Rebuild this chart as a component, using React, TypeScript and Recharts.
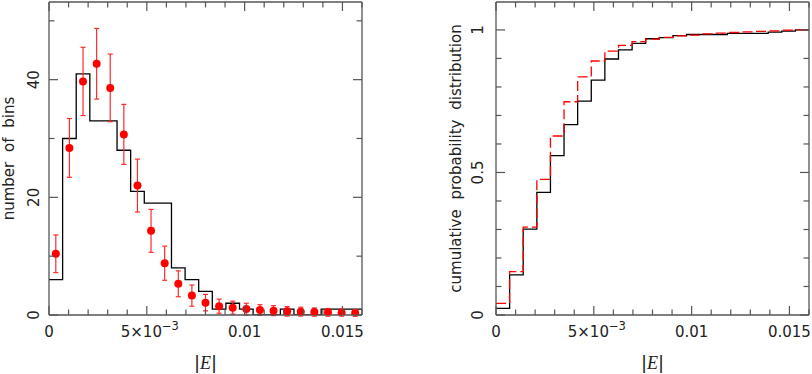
import React from 'react';
import { ComposedChart, Line, Scatter, XAxis, YAxis, ErrorBar } from 'recharts';

// bin edges in |E| (23 bins between 0 and 0.016)
const binEdges = [
  0, 0.000696, 0.001391, 0.002087, 0.002783, 0.003478, 0.004174, 0.00487, 0.005565, 0.006261,
  0.006957, 0.007652, 0.008348, 0.009043, 0.009739, 0.010435, 0.01113, 0.011826, 0.012522,
  0.013217, 0.013913, 0.014609, 0.015304, 0.016,
];
const binCentres = [
  0.000348, 0.001043, 0.001739, 0.002435, 0.00313, 0.003826, 0.004522, 0.005217, 0.005913,
  0.006609, 0.007304, 0.008, 0.008696, 0.009391, 0.010087, 0.010783, 0.011478, 0.012174,
  0.01287, 0.013565, 0.014261, 0.014957, 0.015652,
];

const histCounts = [6, 30, 41, 33, 33, 28, 21, 19, 19, 8, 6, 4, 1, 2, 1, 0, 0, 1, 0, 0, 1, 1, 1];
const modelCounts = [
  10.4, 28.4, 39.7, 42.7, 38.6, 30.7, 22.0, 14.3, 8.8, 5.3, 3.3, 2.1, 1.5, 1.25, 1.0, 0.85, 0.74,
  0.62, 0.57, 0.5, 0.45, 0.4, 0.34,
];
const modelErrors = [
  3.2, 5.0, 5.8, 6.0, 5.75, 5.1, 4.5, 3.65, 2.9, 2.2, 1.8, 1.4, 1.2, 1.1, 1.0, 0.9, 0.85, 0.8, 0.75,
  0.7, 0.65, 0.6, 0.58,
];

const cdfData = [
  0.023, 0.141, 0.301, 0.43, 0.559, 0.668, 0.75, 0.824, 0.898, 0.93, 0.953, 0.969, 0.973, 0.98,
  0.984, 0.984, 0.984, 0.988, 0.988, 0.988, 0.992, 0.996, 1.0,
];
const cdfModel = [
  0.041, 0.152, 0.308, 0.476, 0.628, 0.748, 0.835, 0.891, 0.926, 0.946, 0.959, 0.968, 0.974, 0.979,
  0.982, 0.986, 0.989, 0.991, 0.993, 0.995, 0.997, 0.999, 1.0,
];

const xTicks = [
  0, 0.001, 0.002, 0.003, 0.004, 0.005, 0.006, 0.007, 0.008, 0.009, 0.01, 0.011, 0.012, 0.013,
  0.014, 0.015, 0.016,
];
const xLabels: Record<string, string> = { '0': '0', '0.005': 'exp', '0.01': '0.01', '0.015': '0.015' };
const histTicks = [0, 10, 20, 30, 40, 50];
const histLabels: Record<string, string> = { '0': '0', '20': '20', '40': '40' };
const cdfTicks = [0, 0.1, 0.2, 0.3, 0.4, 0.5, 0.6, 0.7, 0.8, 0.9, 1];
const cdfLabels: Record<string, string> = { '0': '0', '0.5': '0.5', '1': '1' };

const FRAME = '#555';
const TEXT = '#222';
const FONT = '"DejaVu Sans", Verdana, sans-serif';

// plot box (same for both panels, relative to each chart)
const PLOT_TOP = 2;
const PLOT_BOTTOM = 315;
const PLOT_MID_Y = (PLOT_TOP + PLOT_BOTTOM) / 2;

// step series: one point per left edge, plus the closing edge
const steps = (vals: number[]) =>
  binEdges.map((x, i) => ({ x, y: vals[Math.min(i, vals.length - 1)] }));

const histSteps = steps(histCounts);
const cdfSteps = steps(cdfData);
const cdfModelSteps = steps(cdfModel);
const modelPoints = binCentres.map((x, i) => ({ x, y: modelCounts[i], err: modelErrors[i] }));

const tickLen = (major: boolean) => (major ? 9 : 5.5);

const makeXTick = (side: 'bottom' | 'top') => (props: any) => {
  const { x, y, payload } = props;
  const key = String(payload.value);
  const lab = xLabels[key];
  const major = lab !== undefined;
  const dir = side === 'bottom' ? -1 : 1;
  return (
    <g>
      <line x1={x} x2={x} y1={y} y2={y + dir * tickLen(major)} stroke={FRAME} strokeWidth={1.2} />
      {side === 'bottom' && lab !== undefined && (
        <text x={x} y={y + 22} textAnchor="middle" fontSize={15} fill={TEXT} fontFamily={FONT}>
          {lab === 'exp' ? (
            <>
              <tspan dx={3}>5×10</tspan>
              <tspan dy={-7} fontSize={11.5}>−3</tspan>
            </>
          ) : (
            lab
          )}
        </text>
      )}
    </g>
  );
};

const makeYTick = (side: 'left' | 'right', labels: Record<string, string>, gap: number) => (props: any) => {
  const { x, y, payload } = props;
  const key = String(payload.value);
  const lab = labels[key];
  const major = lab !== undefined;
  const dir = side === 'left' ? 1 : -1;
  const tx = x - gap;
  return (
    <g>
      <line x1={x} x2={x + dir * tickLen(major)} y1={y} y2={y} stroke={FRAME} strokeWidth={1.2} />
      {side === 'left' && lab !== undefined && (
        <text
          x={tx}
          y={y}
          transform={`rotate(-90, ${tx}, ${y})`}
          textAnchor="middle"
          fontSize={15}
          fill={TEXT}
          fontFamily={FONT}
        >
          {lab}
        </text>
      )}
    </g>
  );
};

const XTitle = (props: any) => {
  const { viewBox } = props;
  const cx = viewBox.x + viewBox.width / 2;
  return (
    <text x={cx} y={PLOT_BOTTOM + 54} textAnchor="middle" fontSize={18} fill={TEXT}>
      <tspan fontFamily="'DejaVu Sans', sans-serif">|</tspan>
      <tspan fontFamily="'Liberation Serif', serif" fontStyle="italic">E</tspan>
      <tspan fontFamily="'DejaVu Sans', sans-serif">|</tspan>
    </text>
  );
};

const makeYTitle = (text: string, bx: number) => () => (
  <text
    x={bx}
    y={PLOT_MID_Y}
    transform={`rotate(-90, ${bx}, ${PLOT_MID_Y})`}
    textAnchor="middle"
    fontSize={15}
    fill={TEXT}
    fontFamily={FONT}
    wordSpacing={5}
  >
    {text}
  </text>
);

const axisLine = { stroke: FRAME, strokeWidth: 1.3 };

const Panel = ({ left, leftAxisW, yDomain, yTicks, yLabels, yGap, title, titleX, children }: any) => (
  <div style={{ position: 'absolute', left, top: 0 }}>
    <ComposedChart width={leftAxisW + 314} height={374} margin={{ top: 1, right: 0, bottom: 0, left: 0 }}>
      <XAxis
        dataKey="x"
        type="number"
        domain={[0, 0.016]}
        ticks={xTicks}
        interval={0}
        allowDataOverflow
        tickSize={0}
        tickMargin={0}
        tickLine={false}
        axisLine={axisLine}
        height={59}
        tick={makeXTick('bottom')}
        label={<XTitle />}
      />
      <XAxis
        xAxisId="top"
        orientation="top"
        dataKey="x"
        type="number"
        domain={[0, 0.016]}
        ticks={xTicks}
        interval={0}
        allowDataOverflow
        tickSize={0}
        tickMargin={0}
        tickLine={false}
        axisLine={axisLine}
        height={1}
        tick={makeXTick('top')}
      />
      <YAxis
        type="number"
        domain={yDomain}
        ticks={yTicks}
        interval={0}
        allowDataOverflow
        tickSize={0}
        tickMargin={0}
        tickLine={false}
        axisLine={axisLine}
        width={leftAxisW}
        tick={makeYTick('left', yLabels, yGap)}
        label={makeYTitle(title, titleX)}
      />
      <YAxis
        yAxisId="right"
        orientation="right"
        type="number"
        domain={yDomain}
        ticks={yTicks}
        interval={0}
        allowDataOverflow
        tickSize={0}
        tickMargin={0}
        tickLine={false}
        axisLine={axisLine}
        width={1}
        tick={makeYTick('right', yLabels, yGap)}
      />
      {children}
    </ComposedChart>
  </div>
);

export default function App() {
  return (
    <div style={{ position: 'absolute', left: 0, top: 0, width: 812, height: 374, background: '#fff' }}>
      <Panel
        left={0}
        leftAxisW={49}
        yDomain={[0, 53.2]}
        yTicks={histTicks}
        yLabels={histLabels}
        yGap={9.7}
        title="number of bins"
        titleX={14}
      >
        <Line
          data={histSteps}
          dataKey="y"
          type="stepAfter"
          stroke="#000"
          strokeWidth={1.3}
          dot={false}
          isAnimationActive={false}
        />
        <Scatter
          data={modelPoints}
          dataKey="y"
          fill="#ff0000"
          isAnimationActive={false}
          shape={(p: any) => <circle cx={p.cx} cy={p.cy} r={4} fill="#ff0000" />}
        >
          <ErrorBar dataKey="err" direction="y" width={2.5} stroke="#ff2a2a" strokeWidth={1.2} />
        </Scatter>
      </Panel>
      <Panel
        left={447}
        leftAxisW={49}
        yDomain={[0, 1.098]}
        yTicks={cdfTicks}
        yLabels={cdfLabels}
        yGap={12.7}
        title="cumulative probability distribution"
        titleX={14}
      >
        <Line
          data={cdfSteps}
          dataKey="y"
          type="stepAfter"
          stroke="#000"
          strokeWidth={1.3}
          dot={false}
          isAnimationActive={false}
        />
        <Line
          data={cdfModelSteps}
          dataKey="y"
          type="stepAfter"
          stroke="#ff0000"
          strokeWidth={1.3}
          strokeDasharray="10 4"
          dot={false}
          isAnimationActive={false}
        />
      </Panel>
    </div>
  );
}
